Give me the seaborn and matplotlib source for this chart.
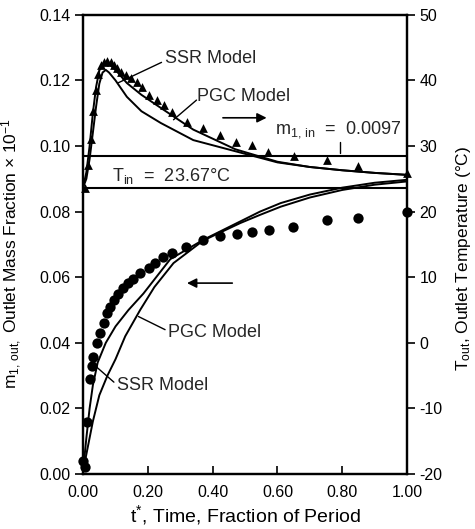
import numpy as np
import matplotlib
matplotlib.use("Agg")
import matplotlib.pyplot as plt
import pandas as pd
import seaborn as sns

# measured outlet temperature (triangles, right axis)
t_tri = [0.005, 0.016, 0.025, 0.032, 0.040, 0.047, 0.055, 0.065, 0.075, 0.085, 0.095,
         0.105, 0.118, 0.132, 0.148, 0.165, 0.182, 0.203, 0.227, 0.250, 0.275, 0.320,
         0.370, 0.422, 0.473, 0.522, 0.572, 0.650, 0.752, 0.848, 1.000]
T_tri = [23.6, 27.1, 31.0, 35.3, 38.5, 41.0, 42.3, 42.8, 43.0, 42.8, 42.4,
         41.9, 41.3, 40.8, 40.3, 39.7, 39.0, 37.8, 37.0, 36.3, 35.2, 33.7,
         32.8, 31.7, 30.6, 30.1, 29.1, 28.4, 27.9, 26.9, 25.9]

# measured outlet mass fraction (circles, left axis)
t_dot = [0.000, 0.006, 0.012, 0.020, 0.027, 0.032, 0.042, 0.052, 0.063, 0.073, 0.083,
         0.094, 0.109, 0.124, 0.140, 0.155, 0.176, 0.202, 0.222, 0.248, 0.274, 0.318,
         0.371, 0.421, 0.474, 0.521, 0.575, 0.649, 0.754, 0.847, 1.000]
m_dot = [0.004, 0.002, 0.016, 0.029, 0.033, 0.0358, 0.0400, 0.0429, 0.046, 0.049, 0.051,
         0.053, 0.055, 0.0566, 0.0582, 0.0595, 0.0612, 0.0627, 0.0643, 0.0663, 0.0673, 0.0693,
         0.0714, 0.0726, 0.0732, 0.0739, 0.0744, 0.0754, 0.0775, 0.0782, 0.080]

# model curves, temperature
t_curve = [0.0, 0.01, 0.02, 0.03, 0.04, 0.05, 0.06, 0.07, 0.08, 0.10, 0.135, 0.18,
           0.24, 0.34, 0.47, 0.60, 0.70, 0.80, 0.90, 1.00]
T_ssr = [23.7, 26.0, 30.0, 35.0, 39.0, 41.5, 42.5, 42.8, 42.5, 41.6, 39.6, 37.8,
         35.8, 32.5, 29.5, 27.6, 26.8, 26.3, 25.9, 25.6]
T_pgc = [23.7, 25.0, 28.0, 32.0, 36.0, 39.5, 41.2, 41.6, 41.2, 40.0, 37.5, 35.3,
         33.5, 30.9, 29.2, 27.5, 26.8, 26.3, 25.9, 25.6]

# model curves, mass fraction
t_ssr_m = [0.0, 0.01, 0.02, 0.03, 0.045, 0.07, 0.10, 0.14, 0.186, 0.269, 0.371,
           0.485, 0.546, 0.61, 0.70, 0.80, 0.90, 1.00]
m_ssr = [0.001, 0.011, 0.020, 0.027, 0.034, 0.040, 0.045, 0.050, 0.055, 0.0655, 0.0714,
         0.0770, 0.0800, 0.0826, 0.0852, 0.0873, 0.0888, 0.0897]
t_pgc_m = [0.0, 0.01, 0.02, 0.03, 0.05, 0.075, 0.10, 0.13, 0.176, 0.22, 0.279, 0.371,
           0.485, 0.546, 0.61, 0.70, 0.80, 0.90, 1.00]
m_pgc = [0.001, 0.006, 0.011, 0.016, 0.024, 0.030, 0.035, 0.042, 0.050, 0.057, 0.0643, 0.0712,
         0.0765, 0.0790, 0.0815, 0.0843, 0.0866, 0.0882, 0.0892]

m_in = 0.097   # m1,in = 0.0097 (axis scaled x 10^-1)
T_in = 23.67

x_ticks = [0.0, 0.2, 0.4, 0.6, 0.8, 1.0]
left_ticks = [0.00, 0.02, 0.04, 0.06, 0.08, 0.10, 0.12, 0.14]
right_ticks = [-20, -10, 0, 10, 20, 30, 40, 50]

sns.set_theme(style="ticks")
plt.rcParams['font.family'] = ['Liberation Sans', 'DejaVu Sans']
plt.rcParams['mathtext.fontset'] = 'custom'
plt.rcParams['mathtext.rm'] = 'Liberation Sans'
plt.rcParams['mathtext.it'] = 'Liberation Sans'

fig = plt.figure(figsize=(4.75, 5.29), dpi=100)
ax = fig.add_axes([0.175, 0.104, 0.682, 0.868])
ax2 = ax.twinx()

fs = 11.5    # tick labels
fa = 13      # annotations
k = 'black'

# mass fraction side
sns.lineplot(x=t_ssr_m, y=m_ssr, ax=ax, color=k, lw=1.4, sort=False, estimator=None)
sns.lineplot(x=t_pgc_m, y=m_pgc, ax=ax, color=k, lw=1.4, sort=False, estimator=None)
sns.scatterplot(x=t_dot, y=m_dot, ax=ax, color=k, s=55, marker='o', edgecolor=k,
                linewidth=0, clip_on=False, zorder=5)
ax.axhline(m_in, color=k, lw=1.5)

# temperature side
sns.lineplot(x=t_curve, y=T_ssr, ax=ax2, color=k, lw=1.4, sort=False, estimator=None)
sns.lineplot(x=t_curve, y=T_pgc, ax=ax2, color=k, lw=1.4, sort=False, estimator=None)
sns.scatterplot(x=t_tri, y=T_tri, ax=ax2, color=k, s=40, marker='^', edgecolor=k,
                linewidth=0, clip_on=False, zorder=5)
ax2.axhline(T_in, color=k, lw=1.5)

ax.set_xlim(0, 1)
ax.set_ylim(0, 0.14)
ax2.set_ylim(-20, 50)
ax.set_xticks(x_ticks)
ax.set_xticklabels([f"{v:.2f}" for v in x_ticks])
ax.set_yticks(left_ticks)
ax.set_yticklabels([f"{v:.2f}" for v in left_ticks])
ax2.set_yticks(right_ticks)
ax2.set_yticklabels([str(v) for v in right_ticks])

for a in (ax, ax2):
    for s in a.spines.values():
        s.set_color(k)
        s.set_linewidth(1.6)
ax.tick_params(axis='x', direction='in', length=6, width=1.2, labelsize=fs, colors=k, pad=8)
ax.tick_params(axis='y', direction='out', length=6, width=1.2, labelsize=fs, colors=k, pad=3)
ax2.tick_params(axis='y', direction='out', length=6, width=1.2, labelsize=fs, colors=k, pad=3)

ax.set_xlabel("t$^{*}$, Time, Fraction of Period", fontsize=14, color=k, labelpad=2)
ax.set_ylabel("m$_{1,\\,out,}$ Outlet Mass Fraction × 10$^{-1}$", fontsize=12.5, color=k)
ax.yaxis.set_label_coords(-0.183, 0.48)
ax2.set_ylabel("T$_{out}$, Outlet Temperature (°C)", fontsize=12.5, color=k)
ax2.yaxis.set_label_coords(1.146, 0.47)

# annotations
ax.text(0.253, 0.1267, "SSR Model", fontsize=fa, va='center', ha='left')
ax.plot([0.242, 0.109], [0.1255, 0.1193], color=k, lw=1.0)
ax.text(0.352, 0.1150, "PGC Model", fontsize=fa, va='center', ha='left')
ax.plot([0.350, 0.279], [0.1140, 0.1080], color=k, lw=1.0)
ax.annotate("", xy=(0.575, 0.1086), xytext=(0.423, 0.1086),
            arrowprops=dict(arrowstyle='-|>', color=k, lw=1.2, mutation_scale=14))
ax.text(0.593, 0.1050, "m$_{1,\\,in}$  =  0.0097", fontsize=fa, va='center', ha='left')
ax.plot([0.793, 0.793], [0.0979, 0.1013], color=k, lw=1.0)
ax.text(0.088, 0.0909, "T$_{in}$  =  23.67°C", fontsize=fa, va='center', ha='left')
ax.annotate("", xy=(0.312, 0.0582), xytext=(0.469, 0.0582),
            arrowprops=dict(arrowstyle='-|>', color=k, lw=1.2, mutation_scale=14))
ax.text(0.263, 0.0430, "PGC Model", fontsize=fa, va='center', ha='left')
ax.plot([0.253, 0.171], [0.0440, 0.0480], color=k, lw=1.0)
ax.text(0.105, 0.0270, "SSR Model", fontsize=fa, va='center', ha='left')
ax.plot([0.095, 0.037], [0.0280, 0.0330], color=k, lw=1.0)

fig.savefig("out.png", dpi=100)
